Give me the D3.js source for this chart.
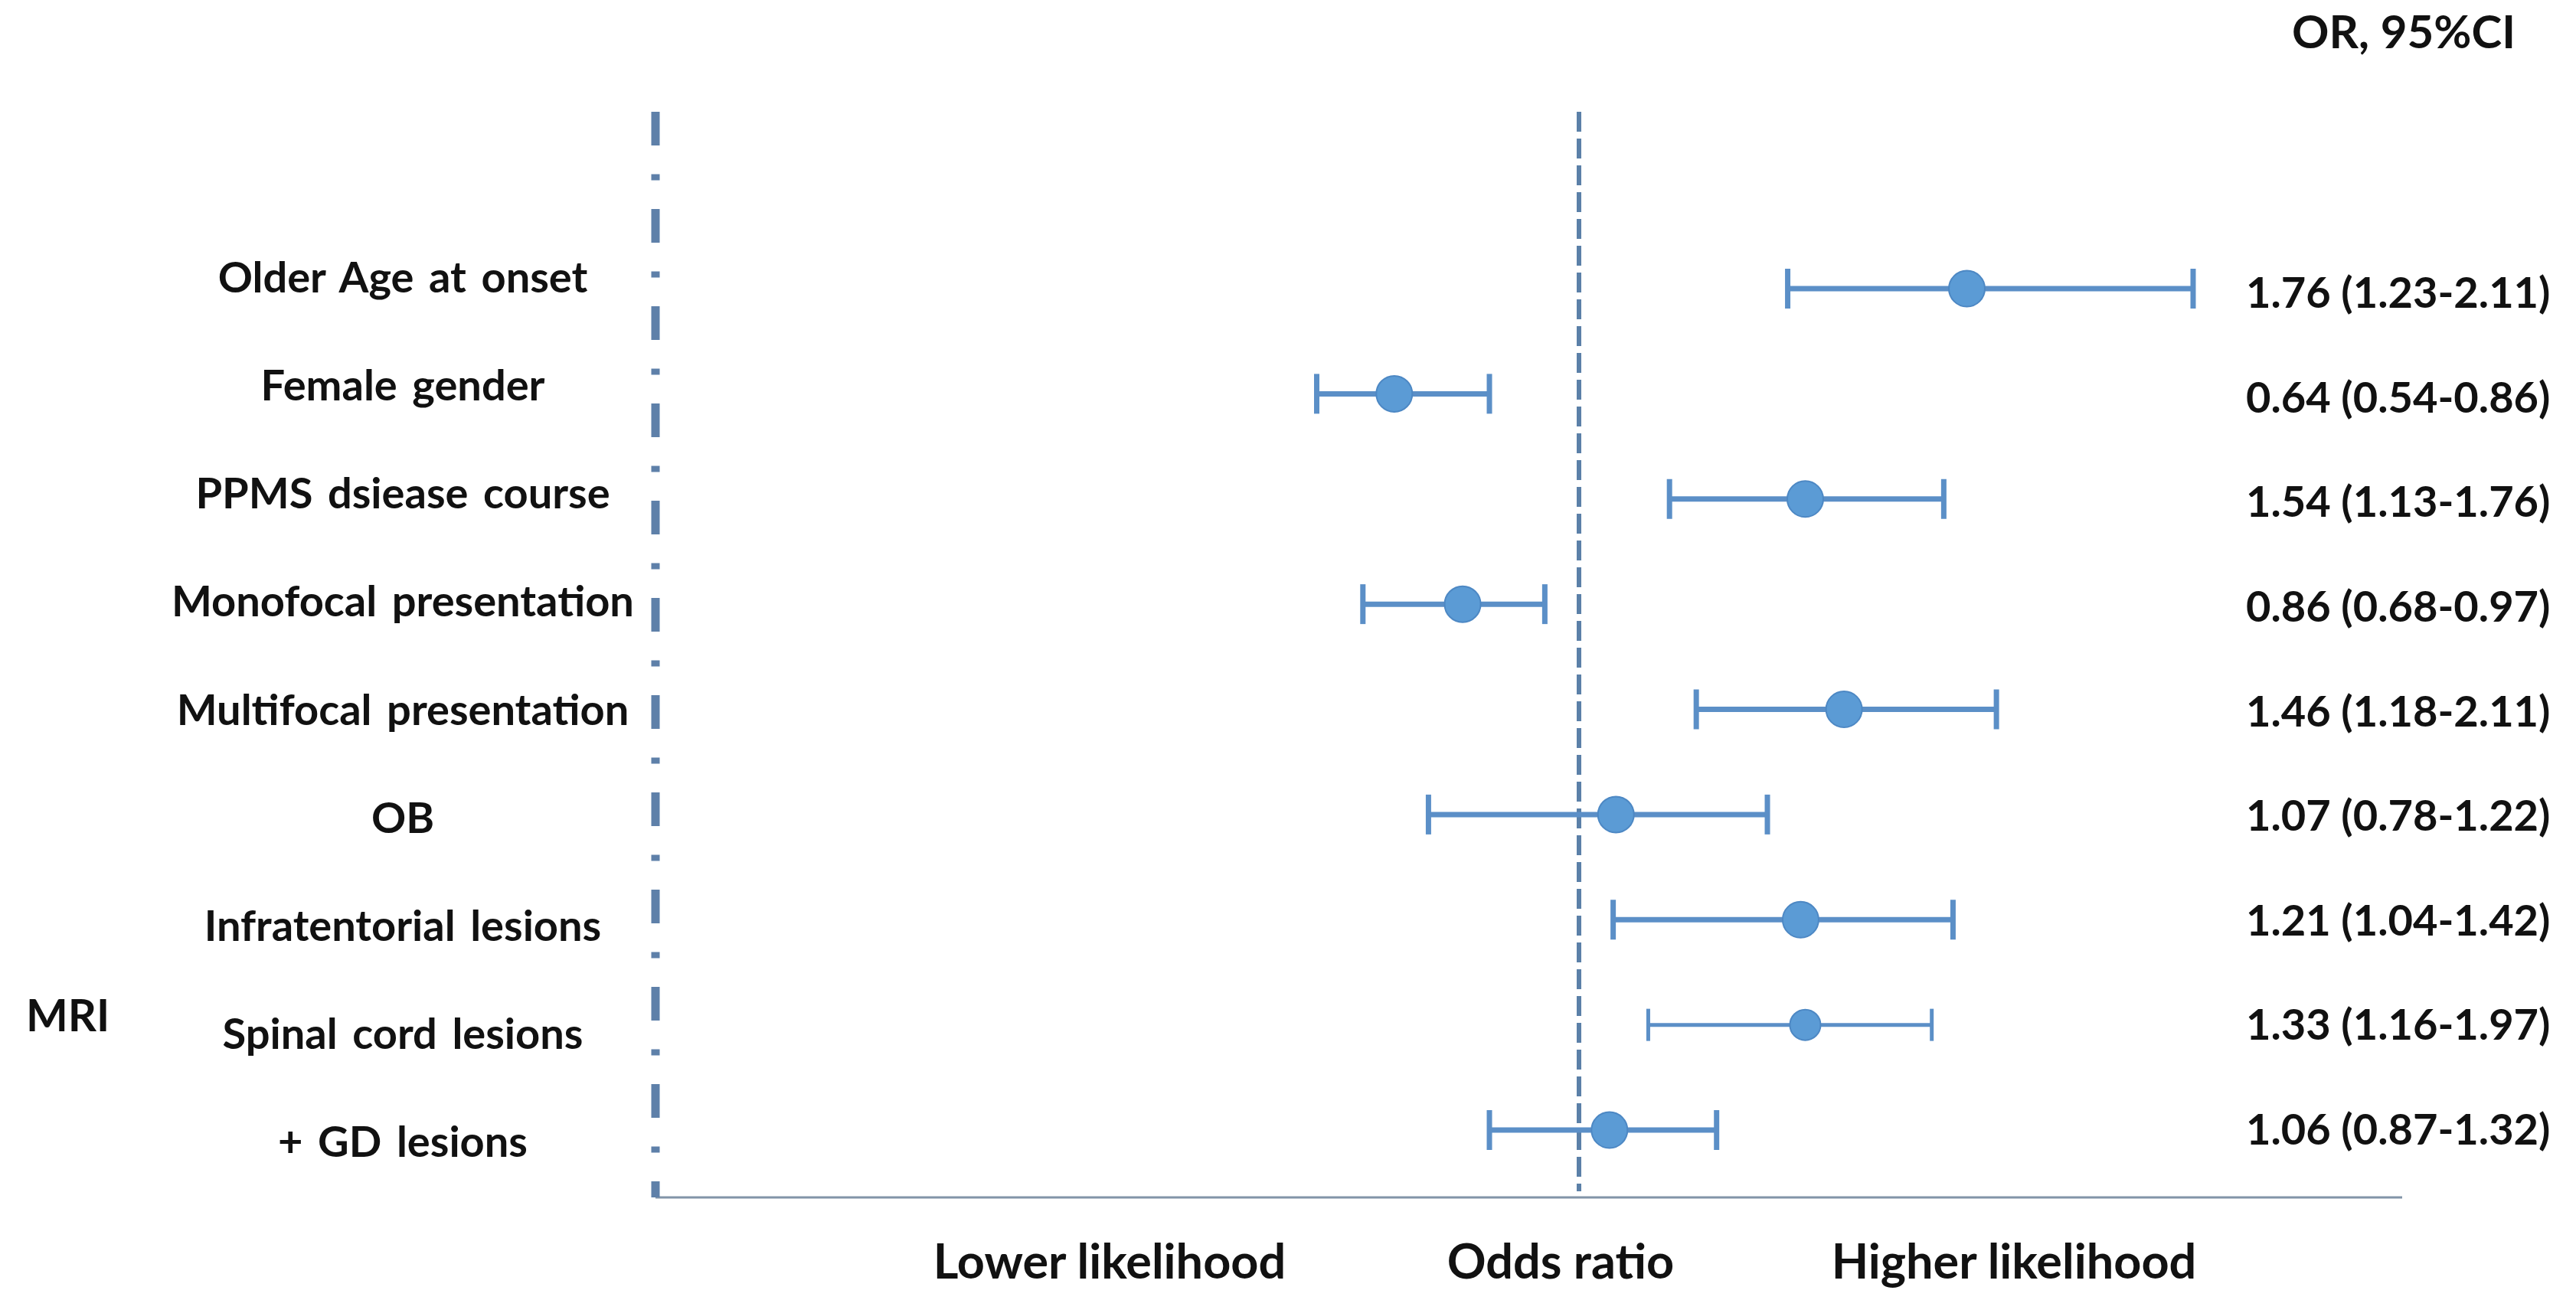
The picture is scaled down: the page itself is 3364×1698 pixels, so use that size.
<!DOCTYPE html>
<html>
<head>
<meta charset="utf-8">
<script src="https://cdn.jsdelivr.net/npm/d3@7"></script>
<style>
  body { margin: 0; background: #fff; }
  svg { display: block; }
</style>
</head>
<body>
<div class="forest"></div>
<script>
// rows, top to bottom
const factors = ["Older Age at onset", "Female gender", "PPMS dsiease course", "Monofocal presentation",
  "Multifocal presentation", "OB", "Infratentorial lesions", "Spinal cord lesions", "+ GD lesions"]

// printed OR and 95% CI (right hand column)
const orValue = [1.76, 0.64, 1.54, 0.86, 1.46, 1.07, 1.21, 1.33, 1.06]
const ciLow = [1.23, 0.54, 1.13, 0.68, 1.18, 0.78, 1.04, 1.16, 0.87]
const ciHigh = [2.11, 0.86, 1.76, 0.97, 2.11, 1.22, 1.42, 1.97, 1.32]

// where the marks sit on the drawn axis (left axis = 0, dashed line = 1)
const plotPoint = [1.42, 0.80, 1.245, 0.874, 1.287, 1.04, 1.24, 1.245, 1.033]
const plotLow = [1.226, 0.716, 1.098, 0.766, 1.127, 0.837, 1.037, 1.075, 0.903]
const plotHigh = [1.665, 0.903, 1.395, 0.963, 1.452, 1.204, 1.405, 1.382, 1.149]

const bottomLabels = ["Lower likelihood", "Odds ratio", "Higher likelihood"]

function forestPlot() {
  const width = 3364
  const height = 1698
  const font = "Lato, 'Open Sans', sans-serif"
  const markColor = "#5b8fc7"
  // this row is drawn a bit lighter in the original
  const thinRow = "Spinal cord lesions"

  const rows = factors.map(function(f, i) {
    return {
      name: f, or: orValue[i], lo: ciLow[i], hi: ciHigh[i],
      p: plotPoint[i], pLo: plotLow[i], pHi: plotHigh[i]
    }
  })

  const canvas = d3.select(".forest").append("svg")
    .attr("width", width)
    .attr("height", height)

  canvas.append("rect")
    .attr("width", width)
    .attr("height", height)
    .attr("fill", "#fff")

  const x = d3.scaleLinear()
    .domain([0, 1])
    .range([856, 2062])

  const axisTop = 146
  const axisBottom = 1564
  const axisRight = 3137

  const yMark = d3.scalePoint().domain(factors).range([377, 1476])
  const yLeft = d3.scalePoint().domain(factors).range([382, 1511])
  const yRight = d3.scalePoint().domain(factors).range([402, 1495])

  // bottom axis
  canvas.append("line")
    .attr("x1", x(0)).attr("x2", axisRight)
    .attr("y1", axisBottom).attr("y2", axisBottom)
    .attr("stroke", "#8294a8")
    .attr("stroke-width", 3)

  // left axis, dash-dot
  canvas.append("line")
    .attr("x1", x(0)).attr("x2", x(0))
    .attr("y1", axisTop).attr("y2", axisBottom)
    .attr("stroke", "#5e80a9")
    .attr("stroke-width", 11)
    .attr("stroke-dasharray", "44 37.5 8 37.5")

  // no-effect line
  canvas.append("line")
    .attr("x1", x(1)).attr("x2", x(1))
    .attr("y1", axisTop).attr("y2", axisBottom - 8)
    .attr("stroke", "#5b80a8")
    .attr("stroke-width", 6)
    .attr("stroke-dasharray", "26 9")

  const bar = canvas.selectAll(".bar")
    .data(rows)
    .enter()
    .append("g")
    .attr("class", "bar")
    .attr("transform", function(d) { return "translate(0," + yMark(d.name) + ")" })

  function lw(d) { return d.name === thinRow ? 5 : 7 }

  bar.append("line")
    .attr("x1", function(d) { return x(d.pLo) })
    .attr("x2", function(d) { return x(d.pHi) })
    .attr("stroke", markColor)
    .attr("stroke-width", lw)

  bar.selectAll(".cap")
    .data(function(d) {
      return [d.pLo, d.pHi].map(function(v) { return { v: v, thin: d.name === thinRow } })
    })
    .enter()
    .append("line")
    .attr("class", "cap")
    .attr("x1", function(c) { return x(c.v) })
    .attr("x2", function(c) { return x(c.v) })
    .attr("y1", function(c) { return c.thin ? -21 : -26 })
    .attr("y2", function(c) { return c.thin ? 21 : 26 })
    .attr("stroke", markColor)
    .attr("stroke-width", function(c) { return c.thin ? 5 : 7 })

  bar.append("circle")
    .attr("cx", function(d) { return x(d.p) })
    .attr("r", function(d) { return d.name === thinRow ? 20 : 23.5 })
    .attr("fill", "#5b9bd5")
    .attr("stroke", "#4d88c4")
    .attr("stroke-width", 2)

  // factor names
  canvas.selectAll(".factor")
    .data(rows)
    .enter()
    .append("text")
    .attr("class", "factor")
    .attr("x", 526)
    .attr("y", function(d) { return yLeft(d.name) })
    .style("text-anchor", "middle")
    .style("font-family", font)
    .style("font-weight", "700")
    .style("font-size", "56px")
    .style("word-spacing", "6px")
    .attr("fill", "#111")
    .text(function(d) { return d.name })

  // OR (CI) column
  canvas.selectAll(".ci")
    .data(rows)
    .enter()
    .append("text")
    .attr("class", "ci")
    .attr("x", 2933)
    .attr("y", function(d) { return yRight(d.name) })
    .style("font-family", font)
    .style("font-weight", "700")
    .style("font-size", "56px")
    .attr("fill", "#111")
    .text(function(d) {
      return d.or.toFixed(2) + " (" + d.lo.toFixed(2) + "-" + d.hi.toFixed(2) + ")"
    })

  canvas.append("text")
    .attr("x", 2993)
    .attr("y", 63)
    .style("font-family", font)
    .style("font-weight", "700")
    .style("font-size", "60px")
    .attr("fill", "#111")
    .text("OR, 95%CI")

  canvas.append("text")
    .attr("x", 34)
    .attr("y", 1347)
    .style("font-family", font)
    .style("font-weight", "700")
    .style("font-size", "58px")
    .attr("fill", "#111")
    .text("MRI")

  // bottom captions
  const captionX = [1449, 2038, 2630]
  canvas.selectAll(".caption")
    .data(bottomLabels)
    .enter()
    .append("text")
    .attr("class", "caption")
    .attr("x", function(d, i) { return captionX[i] })
    .attr("y", 1670)
    .style("text-anchor", "middle")
    .style("font-family", font)
    .style("font-weight", "700")
    .style("font-size", "63px")
    .attr("fill", "#111")
    .text(function(d) { return d })
}

forestPlot()
</script>
</body>
</html>
